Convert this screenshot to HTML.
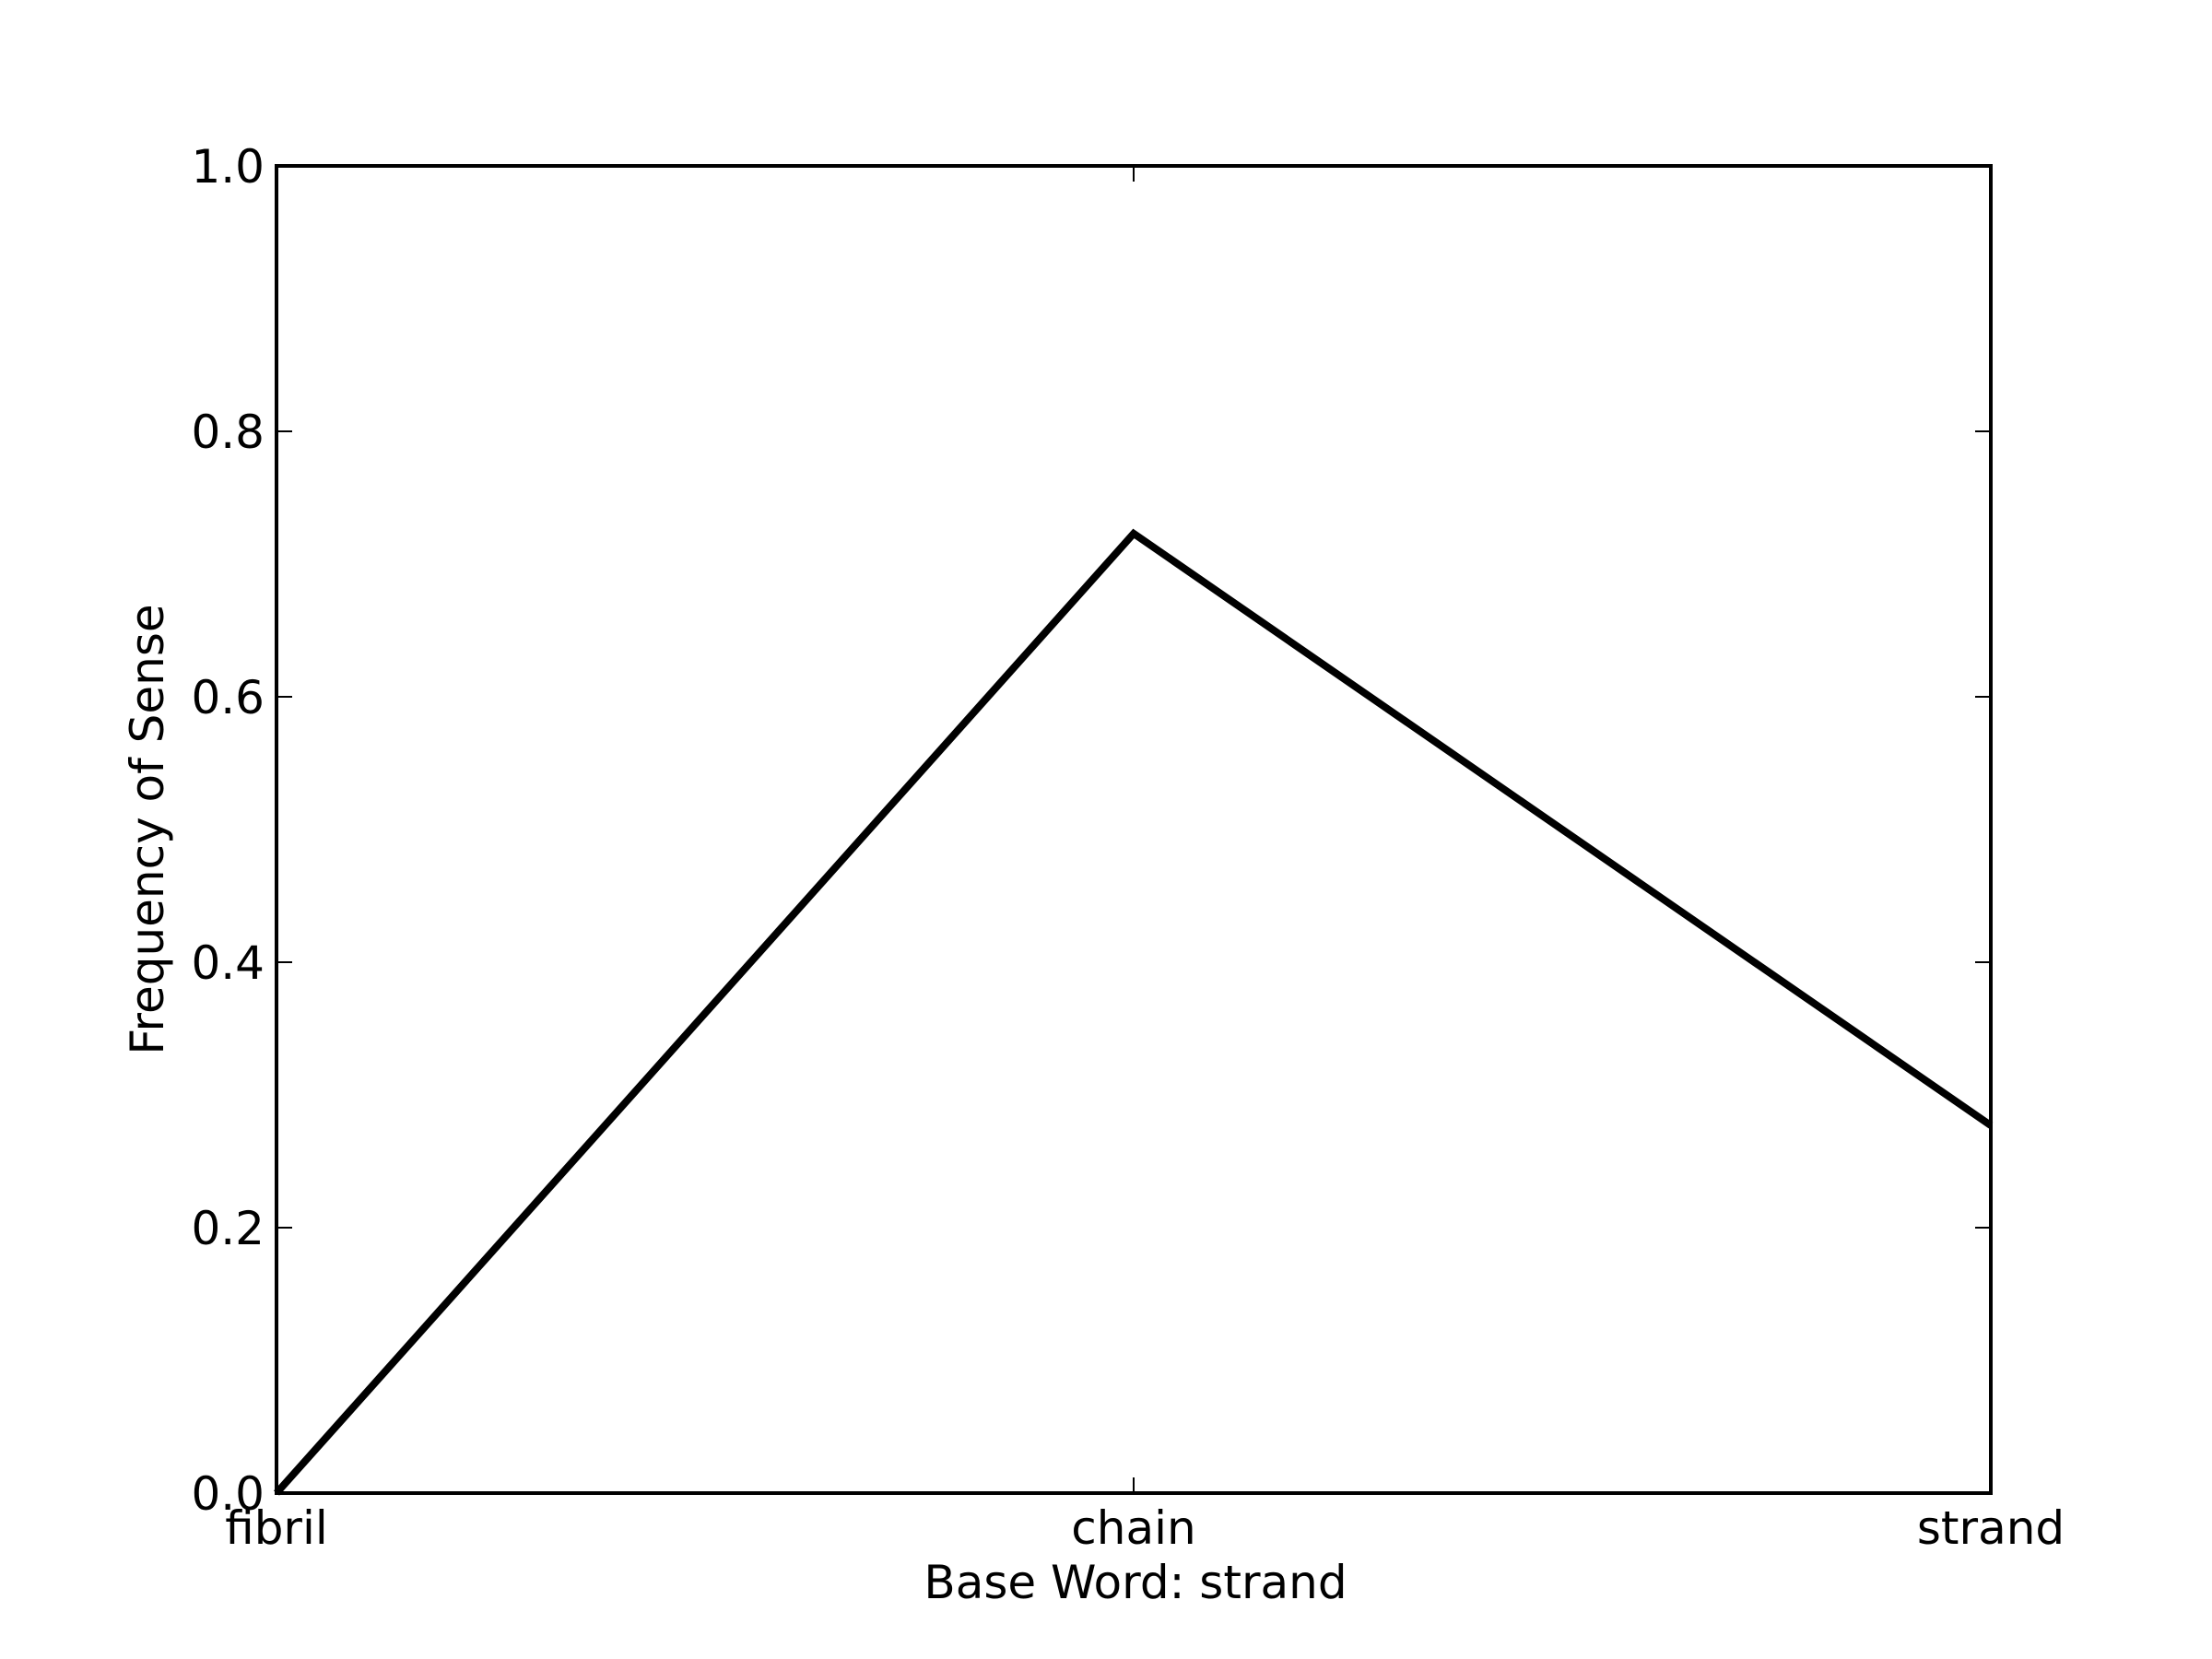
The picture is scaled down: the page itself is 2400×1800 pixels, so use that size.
<!DOCTYPE html>
<html><head><meta charset="utf-8"><style>
html,body{margin:0;padding:0;background:#fff;}
svg{display:block;}
text{font-family:"DejaVu Sans","Liberation Sans",sans-serif;font-size:50px;fill:#000;}
</style></head><body>
<svg id="chart" width="2400" height="1800" viewBox="0 0 2400 1800">
<rect width="2400" height="1800" fill="#fff"/>
<g id="ticks"></g>
<polyline id="series" fill="none" stroke="#000" stroke-width="8" stroke-linejoin="miter"/>
<rect x="300" y="180" width="1860" height="1440" fill="none" stroke="#000" stroke-width="4"/>
<text x="1232" y="1734" text-anchor="middle">Base Word: strand</text>
<text x="0" y="0" text-anchor="middle" transform="translate(177,900) rotate(-90)">Frequency of Sense</text>
</svg>
<script>
const categories = ["fibril", "chain", "strand"];
const values = [0.0, 0.723, 0.277];
const yTicks = [0.0, 0.2, 0.4, 0.6, 0.8, 1.0];
const yTickLabels = ["0.0", "0.2", "0.4", "0.6", "0.8", "1.0"];

const L=300,R=2160,T=180,B=1620;
const xs=i=>L+(R-L)*i/(categories.length-1);
const ys=v=>B-(B-T)*v;
const NS="http://www.w3.org/2000/svg";
const g=document.getElementById('ticks');
function mk(tag,attrs){const e=document.createElementNS(NS,tag);for(const k in attrs)e.setAttribute(k,attrs[k]);return e;}
yTicks.forEach((v,i)=>{
  const y=ys(v);
  const t1=mk('line',{x1:L,x2:L+17,y1:y,y2:y,stroke:'#000','stroke-width':2});
  
  
  g.appendChild(t1);
  const t2=mk('line',{x1:R-17,x2:R,y1:y,y2:y,stroke:'#000','stroke-width':2});
  
  
  g.appendChild(t2);
  const tx=mk('text',{x:L-13,y:y+18,'text-anchor':'end'});
  tx.textContent=yTickLabels[i];
  
  
  g.appendChild(tx);
});
categories.forEach((c,i)=>{
  const x=xs(i);
  const t1=mk('line',{x1:x,x2:x,y1:B,y2:B-17,stroke:'#000','stroke-width':2});
  
  
  g.appendChild(t1);
  const t2=mk('line',{x1:x,x2:x,y1:T,y2:T+17,stroke:'#000','stroke-width':2});
  
  
  g.appendChild(t2);
  const tx=mk('text',{x:x,y:B+55,'text-anchor':'middle'});
  tx.textContent=c;
  
  
  g.appendChild(tx);
});
document.getElementById('series').setAttribute('points',values.map((v,i)=>xs(i)+','+ys(v)).join(' '));
</script>
</body></html>
